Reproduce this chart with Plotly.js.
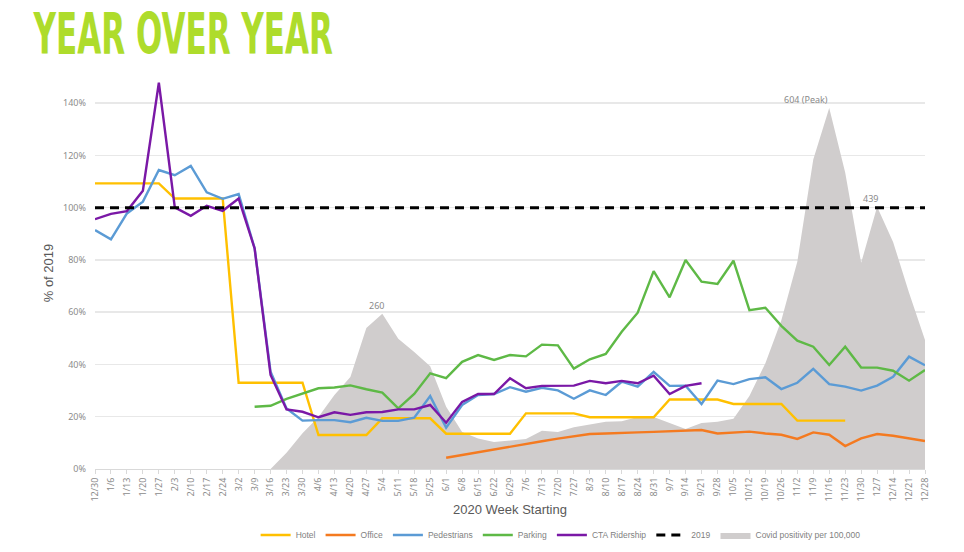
<!DOCTYPE html>
<html>
<head>
<meta charset="utf-8">
<script src="https://cdn.plot.ly/plotly-3.0.1.min.js"></script>
<style>
  html, body { margin: 0; padding: 0; background: #ffffff; }
  #chart { width: 964px; height: 552px; }
</style>
</head>
<body>
<div id="chart"></div>
<script>
const weeks = ["12/30","1/6","1/13","1/20","1/27","2/3","2/10","2/17","2/24","3/2","3/9",
  "3/16","3/23","3/30","4/6","4/13","4/20","4/27","5/4","5/11","5/18","5/25",
  "6/1","6/8","6/15","6/22","6/29","7/6","7/13","7/20","7/27","8/3","8/10","8/17","8/24","8/31",
  "9/7","9/14","9/21","9/28","10/5","10/12","10/19","10/26","11/2","11/9","11/16","11/23","11/30",
  "12/7","12/14","12/21","12/28"];

const hotel = [109.3,109.3,109.3,109.3,109.3,103.5,103.5,103.5,103.5,33,33,
  33,33,33,13,13,13,13,19.4,19.4,19.4,19.4,
  13.5,13.5,13.5,13.5,13.5,21.3,21.3,21.3,21.3,19.8,19.8,19.8,19.8,19.8,
  26.6,26.6,26.6,26.6,24.9,24.9,24.9,24.9,18.5,18.5,18.5,18.5,null,
  null,null,null,null];

const office = [null,null,null,null,null,null,null,null,null,null,null,
  null,null,null,null,null,null,null,null,null,null,null,
  4.3,5.4,6.4,7.5,8.5,9.6,10.6,11.6,12.5,13.4,13.6,13.7,14.0,14.2,
  14.5,14.7,14.9,13.6,13.9,14.3,13.6,13.1,11.5,14.0,13.1,8.8,11.7,
  13.4,12.7,11.6,10.7];

const pedestrians = [91.4,87.9,97.8,102.3,114.4,112.4,116,105.9,103.4,105.2,84.5,
  37.2,23.2,18.5,18.7,18.7,17.9,19.6,18.4,18.4,19.6,27.9,
  15.8,24.5,28.3,28.7,31.3,29.6,31.1,30.1,26.9,30.1,28.3,33.4,31.5,37.2,
  31.8,31.9,24.9,33.8,32.5,34.4,35.1,30.6,33.0,38.3,32.5,31.5,30.0,
  31.9,35.3,43.0,39.7];

const parking = [null,null,null,null,null,null,null,null,null,null,23.8,
  24.2,26.8,29.0,30.9,31.2,32.0,30.5,29.2,23.2,28.7,36.6,
  34.8,41.0,43.6,41.7,43.6,43.1,47.6,47.3,38.4,42.0,44.0,52.5,59.8,75.7,
  65.7,80.0,71.7,70.8,79.7,60.8,61.7,54.8,49.1,46.8,39.8,46.8,38.8,
  38.8,37.6,33.8,37.9];

const cta = [95.6,97.6,98.7,106.5,147.8,100.1,96.9,100.7,98.8,103.5,84.4,
  36.0,22.8,21.9,19.8,21.7,20.7,21.7,21.8,22.8,22.8,24.5,
  17.7,25.7,28.7,28.7,34.7,30.9,31.8,31.8,31.9,33.7,32.8,33.7,32.8,35.7,
  28.7,31.8,32.8,null,null,null,null,null,null,null,null,null,null,
  null,null,null,null];

const baseline2019 = [100,100,100,100,100,100,100,100,100,100,100,
  100,100,100,100,100,100,100,100,100,100,100,
  100,100,100,100,100,100,100,100,100,100,100,100,100,100,
  100,100,100,100,100,100,100,100,100,100,100,100,100,
  100,100,100,100];

const covid = [null,null,null,null,null,null,null,null,null,null,null,
  0,27,60,87,124,154,236,260,218,196,172,
  104,62,51,45,47,50,64,62,70,75,79,80,87,87,
  77,67,77,79,84,122,177,249,347,518,604,496,345,
  439,380,295,216];

const covidLabels = [
  {week: "5/4", value: 260, text: "260", anchor: "center", shift: -6},
  {week: "11/16", value: 604, text: "604 (Peak)", anchor: "right", shift: 1},
  {week: "12/7", value: 439, text: "439", anchor: "right", shift: 3}
];

const lineW = 2.4;
function lineTrace(name, y, color, rank) {
  return {type: "scatter", mode: "lines", name: name, x: weeks, y: y,
    xaxis: "x", yaxis: "y2", line: {color: color, width: lineW},
    connectgaps: false, legendrank: rank, hoverinfo: "skip"};
}

const data = [
  {type: "scatter", mode: "lines", name: "Covid positivity per 100,000", x: weeks, y: covid,
   xaxis: "x", yaxis: "y", fill: "tozeroy", fillcolor: "#D0CDCD",
   line: {width: 0, color: "#D0CDCD"}, legendrank: 7, hoverinfo: "skip"},
  lineTrace("Hotel", hotel, "#FFC000", 1),
  lineTrace("Office", office, "#F47A20", 2),
  lineTrace("Pedestrians", pedestrians, "#5B9BD5", 3),
  lineTrace("Parking", parking, "#5EB946", 4),
  lineTrace("CTA Ridership", cta, "#7A18A6", 5),
  {type: "scatter", mode: "lines", name: "2019", x: weeks, y: baseline2019,
   xaxis: "x", yaxis: "y2", line: {color: "#000000", width: 3, dash: "9px,6px"},
   legendrank: 6, hoverinfo: "skip"}
];

const annotations = covidLabels.map(a => ({
  x: a.week, y: a.value, xref: "x", yref: "y", text: a.text, showarrow: false,
  xanchor: a.anchor, yanchor: "bottom", xshift: a.shift, yshift: 0,
  font: {family: "Noto Sans, Liberation Sans, sans-serif", size: 9, color: "#8a8a8a"}
}));

const tickFont = {family: "Noto Sans, Liberation Sans, sans-serif", size: 9, color: "#8c8c8c"};

const layout = {
  width: 964, height: 552,
  paper_bgcolor: "#ffffff", plot_bgcolor: "rgba(0,0,0,0)",
  margin: {l: 95, r: 39, t: 77, b: 83, autoexpand: false},
  title: {
    text: "YEAR OVER YEAR",
    x: 35/964, xanchor: "left", xref: "container",
    y: 0.99, yanchor: "top", yref: "container",
    font: {family: "DejaVu Sans Condensed, DejaVu Sans, sans-serif", size: 57, weight: "bold", color: "#AEDC2B"}
  },
  showlegend: true,
  legend: {
    orientation: "h", x: 0.561, xanchor: "center",
    y: 17/552, yanchor: "middle", yref: "container",
    font: {family: "Liberation Sans Narrow, Liberation Sans, sans-serif", size: 8.5, color: "#7f7f7f"},
    bgcolor: "rgba(0,0,0,0)", itemwidth: 30, traceorder: "normal"
  },
  xaxis: {
    type: "category", categoryorder: "array", categoryarray: weeks,
    range: [0, 52], tickangle: -90, tickfont: tickFont, automargin: false,
    showgrid: false, zeroline: false, showline: true, linecolor: "#D9D9D9", linewidth: 1,
    ticks: "outside", ticklen: 4, tickcolor: "#D9D9D9",
    title: {text: "2020 Week Starting", standoff: 4,
      font: {family: "Liberation Sans, Arial, sans-serif", size: 13, color: "#595959"}},
    fixedrange: true
  },
  yaxis: {
    range: [0, 656], visible: false, showgrid: false, zeroline: false, fixedrange: true
  },
  yaxis2: {
    overlaying: "y", side: "left", range: [0, 150], dtick: 20, tick0: 0,
    ticksuffix: "%", tickfont: tickFont, ticks: "", ticklabelstandoff: 8, automargin: false,
    showgrid: true, gridcolor: "#E8E8E8", gridwidth: 1.5, zeroline: false, showline: false,
    title: {text: "% of 2019", standoff: 6,
      font: {family: "Liberation Sans, Arial, sans-serif", size: 13, color: "#595959"}},
    fixedrange: true
  },
  annotations: annotations
};

Plotly.newPlot("chart", data, layout, {displayModeBar: false, staticPlot: true}).then(gd => {
  const t = gd.querySelector(".gtitle");
  if (t) {
    const bb = t.getBBox();
    const sx = 300 / bb.width;
    const targetLeft = 33;
    t.setAttribute("transform",
      `translate(${targetLeft},1) scale(${sx},1) translate(${-bb.x},${-bb.y})`);
  }
});
</script>
</body>
</html>
